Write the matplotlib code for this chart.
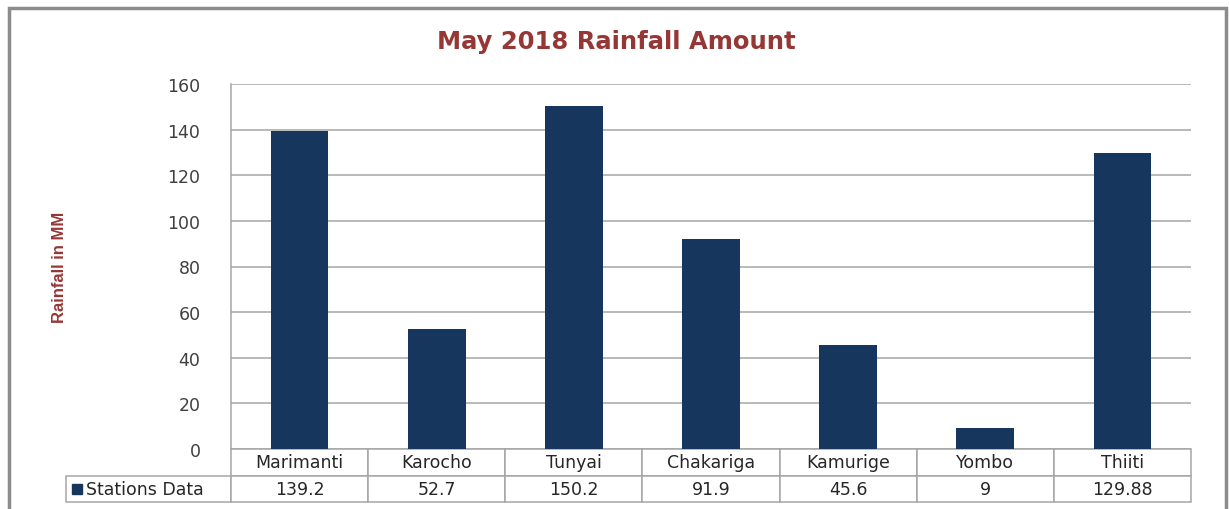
import matplotlib.pyplot as plt
from matplotlib.patches import Rectangle
from matplotlib.table import Table

plt.rcParams['font.family'] = ['DejaVu Sans']

# station rainfall, May 2018
stations = ['Marimanti', 'Karocho', 'Tunyai', 'Chakariga', 'Kamurige', 'Yombo', 'Thiiti']
rainfall = [139.2, 52.7, 150.2, 91.9, 45.6, 9, 129.88]
series_name = 'Stations Data'
yticks = [0, 20, 40, 60, 80, 100, 120, 140, 160]

bar_color = '#17365D'
red = '#953735'
grid_color = '#A6A6A6'
text_color = '#404040'

W, H = 1229, 510
fig = plt.figure(figsize=(W / 100, H / 100), dpi=100)

# plot area in pixels: x 231..1191, y 85..450
left, right, top, bottom = 231, 1191, 85, 450
ax = fig.add_axes([left / W, 1 - bottom / H, (right - left) / W, (bottom - top) / H])

x = range(len(stations))
ax.bar(x, rainfall, width=0.42, color=bar_color, zorder=3)
ax.set_xlim(-0.5, len(stations) - 0.5)
ax.set_ylim(0, 160)
ax.set_yticks(yticks)
ax.set_xticks([])
ax.yaxis.grid(True, color=grid_color, lw=1.1, zorder=0)
ax.tick_params(axis='y', length=0, pad=22, labelsize=12.5, labelcolor=text_color)
for s in ['top', 'right', 'bottom']:
    ax.spines[s].set_visible(False)
ax.spines['left'].set_color(grid_color)
ax.spines['left'].set_linewidth(1.1)

ax.set_ylabel('Rainfall in MM', color=red, fontsize=12, fontweight='bold',
              family=['Liberation Sans Narrow', 'Liberation Sans', 'DejaVu Sans'], labelpad=0)
ax.yaxis.set_label_coords(-(left - 67) / (right - left), 0.5)

# data table under the axis
ax_w = right - left
ax_h = bottom - top
row_h = 26.5 / ax_h
col_w = 1 / len(stations)
lab_w = (left - 66) / ax_w
tab = Table(ax, bbox=[0, -2 * row_h, 1, 2 * row_h])
for j, name in enumerate(stations):
    tab.add_cell(0, j, width=col_w, height=row_h, text=name, loc='center')
lab_cell = tab.add_cell(1, -1, width=lab_w, height=row_h, text=series_name, loc='left')
lab_cell.PAD = 0.12
for j, v in enumerate(rainfall):
    tab.add_cell(1, j, width=col_w, height=row_h, text=f'{v:g}', loc='center')
tab.auto_set_font_size(False)
tab.set_fontsize(12.5)
for cell in tab.get_celld().values():
    cell.set_edgecolor(grid_color)
    cell.set_linewidth(1.1)
    cell.get_text().set_color('#262626')
ax.add_table(tab)

# legend key square in the row label cell
ax.plot([-(left - 77) / ax_w], [-1.5 * row_h], marker='s', ms=7, color=bar_color,
        transform=ax.transAxes, clip_on=False)

fig.text(616 / W, 1 - 42 / H, 'May 2018 Rainfall Amount', ha='center', va='center',
         fontsize=17.5, fontweight='bold', color=red)

# chart border
fig.add_artist(Rectangle((8.5 / W, -0.2), (1226 - 8.5) / W, 1.2 - 8.5 / H,
                         transform=fig.transFigure, fill=False, ec='#8C8C8C', lw=2.5,
                         clip_on=False))

fig.savefig('out.png', dpi=100)
